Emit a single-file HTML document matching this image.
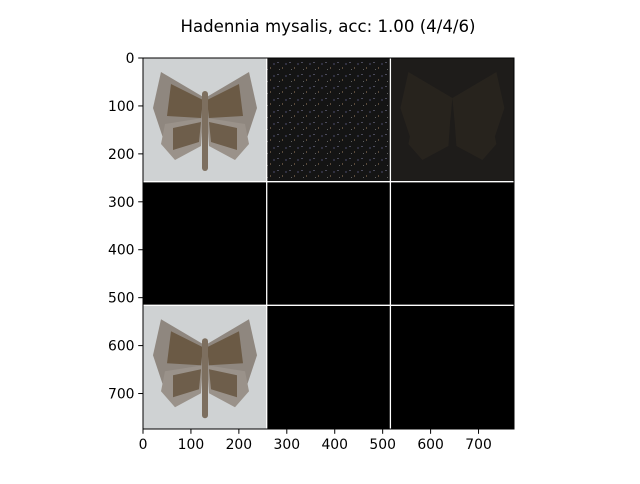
<!DOCTYPE html>
<html><head><meta charset="utf-8"><style>
body{margin:0;background:#fff;width:640px;height:480px;overflow:hidden;font-family:"DejaVu Sans","Liberation Sans",sans-serif}
</style></head><body>
<svg width="640" height="480" viewBox="0 0 640 480" xmlns="http://www.w3.org/2000/svg" font-family="DejaVu Sans, Liberation Sans, sans-serif">
<defs>
<pattern id="noise" width="12" height="12" patternUnits="userSpaceOnUse">
<rect width="12" height="12" fill="#141414"/>
<rect x="1" y="2" width="2" height="1" fill="#4a4a5a"/>
<rect x="6" y="7" width="1" height="2" fill="#5a4a3a"/>
<rect x="9" y="3" width="2" height="2" fill="#303040"/>
<rect x="3" y="9" width="1" height="1" fill="#606060"/>
</pattern>
<g id="moth">
<rect width="123.7" height="123.7" fill="#cfd2d3"/>
<path d="M62 40 L18 14 L10 50 L20 80 L60 62 Z" fill="#8f877f"/>
<path d="M62 40 L106 14 L114 50 L104 80 L64 62 Z" fill="#8f877f"/>
<path d="M60 42 L28 26 L24 58 L58 60 Z" fill="#6b5a45"/>
<path d="M64 42 L96 26 L100 58 L66 60 Z" fill="#6b5a45"/>
<path d="M60 60 L22 66 L18 86 L32 102 L58 88 Z" fill="#9a928a"/>
<path d="M64 60 L102 66 L106 86 L92 102 L66 88 Z" fill="#9a928a"/>
<path d="M58 64 L30 70 L30 92 L56 84 Z" fill="#6e5e4b"/>
<path d="M66 64 L94 70 L94 92 L68 84 Z" fill="#6e5e4b"/>
<rect x="59" y="33" width="6" height="80" rx="3" fill="#7d6f5f"/>
</g>
</defs>
<text x="328" y="32" text-anchor="middle" font-size="16.6">Hadennia mysalis, acc: 1.00 (4/4/6)</text>
<g>
<rect x="143" y="58" width="371" height="371" fill="#000"/>
<use href="#moth" x="143" y="58"/>
<rect x="266.7" y="58" width="123.7" height="123.7" fill="url(#noise)"/>
<rect x="390.4" y="58" width="123.6" height="123.7" fill="#1e1c1a"/>
<g transform="translate(390.4,58)" opacity="0.35"><path d="M62 40 L18 14 L10 50 L20 80 L60 62 Z M62 40 L106 14 L114 50 L104 80 L64 62 Z M60 60 L22 66 L18 86 L32 102 L58 88 Z M64 60 L102 66 L106 86 L92 102 L66 88 Z" fill="#3a3026"/></g>
<use href="#moth" x="143" y="305.3"/>
<line x1="266.7" y1="58" x2="266.7" y2="429" stroke="#fff" stroke-width="1.3"/>
<line x1="390.4" y1="58" x2="390.4" y2="429" stroke="#fff" stroke-width="1.3"/>
<line x1="143" y1="181.7" x2="514" y2="181.7" stroke="#fff" stroke-width="1.3"/>
<line x1="143" y1="305.3" x2="514" y2="305.3" stroke="#fff" stroke-width="1.3"/>
<rect x="143" y="58" width="371" height="371" fill="none" stroke="#000" stroke-width="1"/>
</g>
<g id="xaxis" font-size="13.9" text-anchor="middle"></g>
<g id="yaxis" font-size="13.9" text-anchor="end"></g>
<script>
const xTicks=[0,100,200,300,400,500,600,700];
const yTicks=[0,100,200,300,400,500,600,700];
const ns="http://www.w3.org/2000/svg";
const x0=143,y0=58,scale=371/774;
const xa=document.getElementById('xaxis'),ya=document.getElementById('yaxis');
xTicks.forEach(v=>{const x=x0+v*scale;
const l=document.createElementNS(ns,'line');l.setAttribute('x1',x);l.setAttribute('x2',x);l.setAttribute('y1',429);l.setAttribute('y2',433.8);l.setAttribute('stroke','#000');


xa.appendChild(l);
const t=document.createElementNS(ns,'text');t.setAttribute('x',x);t.setAttribute('y',449);t.textContent=v;


xa.appendChild(t);});
yTicks.forEach(v=>{const y=y0+v*scale;
const l=document.createElementNS(ns,'line');l.setAttribute('x1',138.2);l.setAttribute('x2',143);l.setAttribute('y1',y);l.setAttribute('y2',y);l.setAttribute('stroke','#000');


ya.appendChild(l);
const t=document.createElementNS(ns,'text');t.setAttribute('x',134.5);t.setAttribute('y',y+5);t.textContent=v;


ya.appendChild(t);});
</script>
</svg>
</body></html>
